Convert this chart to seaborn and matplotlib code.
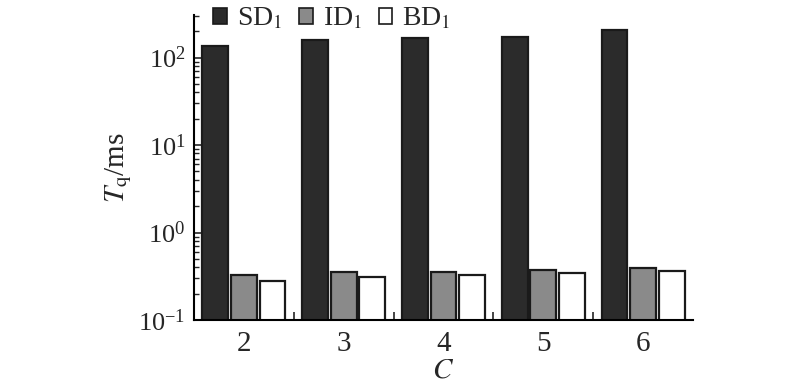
import numpy as np
import pandas as pd
import matplotlib
matplotlib.use("Agg")
import matplotlib.pyplot as plt
import seaborn as sns
from matplotlib.ticker import LogLocator, FixedLocator, NullFormatter
from matplotlib.patches import Patch

categories = ["2", "3", "4", "5", "6"]
series = ["SD$_1$", "ID$_1$", "BD$_1$"]
sd_values = [135, 158, 167, 171, 206]
id_values = [0.327, 0.356, 0.356, 0.373, 0.39]
bd_values = [0.281, 0.308, 0.324, 0.341, 0.366]
colors = ["#2b2b2b", "#8a8a8a", "#ffffff"]

df = pd.DataFrame({
    "C": categories * 3,
    "series": [series[0]] * 5 + [series[1]] * 5 + [series[2]] * 5,
    "value": sd_values + id_values + bd_values,
})

sns.set_theme(style="white")
plt.rcParams["font.family"] = ["Liberation Serif", "DejaVu Serif"]
plt.rcParams["mathtext.fontset"] = "stix"

fig = plt.figure(figsize=(8, 3.91), dpi=100)
ax = fig.add_axes([0.2425, 0.1816, 0.6238, 0.78])

sns.barplot(data=df, x="C", y="value", hue="series", palette=colors,
            edgecolor="#1a1a1a", linewidth=1.6, width=0.86, gap=0.1,
            ax=ax, legend=False)

ax.set_yscale("log")
ax.set_ylim(0.1, 306)
ax.set_xlim(-0.5, 4.5)

ax.yaxis.set_major_locator(LogLocator(base=10, numticks=10))
ax.yaxis.set_minor_locator(LogLocator(base=10, subs=np.arange(2, 10), numticks=10))
ax.yaxis.set_minor_formatter(NullFormatter())
ax.tick_params(axis="y", which="major", direction="in", length=6, width=1.2,
               labelsize=19, left=True, pad=6)
ax.tick_params(axis="y", which="minor", direction="in", length=3.5, width=1.0, left=True)

ax.xaxis.set_minor_locator(FixedLocator([0.5, 1.5, 2.5, 3.5]))
ax.tick_params(axis="x", which="major", length=0, labelsize=21, pad=8)
ax.tick_params(axis="x", which="minor", direction="in", length=6, width=1.2, bottom=True)

for s in ["top", "right"]:
    ax.spines[s].set_visible(False)
for s in ["left", "bottom"]:
    ax.spines[s].set_color("black")
    ax.spines[s].set_linewidth(1.5)

ax.set_xlabel("$C$", fontsize=21, labelpad=0)
ax.set_ylabel("$T_\\mathrm{q}$/ms", fontsize=21, labelpad=3)

handles = [Patch(facecolor=c, edgecolor="#1a1a1a", linewidth=1.2) for c in colors]
fig.legend(handles, series, loc="center", bbox_to_anchor=(0.415, 0.952), ncol=3,
           frameon=False, fontsize=20, handlelength=0.5, handleheight=0.5,
           handletextpad=0.35, columnspacing=0.6, borderpad=0.1)

fig.savefig("out.png", dpi=100)
